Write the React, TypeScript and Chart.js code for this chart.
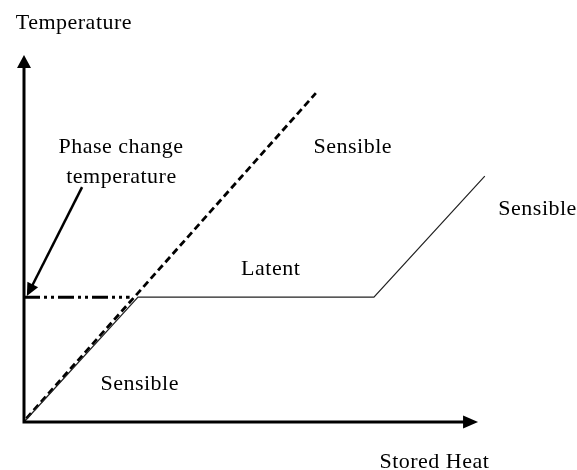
import React, { useEffect, useRef } from "react";
import { Chart, registerables } from "chart.js";

Chart.register(...registerables);

// Data (x: stored heat units, y: temperature units)
const solidX = [0, 23.75, 72.9, 96];
const solidY = [0, 34, 34, 67];
const dashedX = [0.5, 60.8];
const dashedY = [1, 89.6];
const phaseX = [0, 22];
const phaseY = [34, 34];
const arrowX = [12.1, 0.6];
const arrowY = [64, 34.3];
const axisTipX = 94.6;
const axisTipY = 100;

const labelTexts = ["Temperature", "Phase change", "temperature", "Sensible", "Sensible", "Latent", "Sensible", "Stored Heat"];
const labelX = [10.4, 20.2, 20.3, 68.5, 107, 51.4, 24.1, 85.5];
const labelY = [107.1, 73.3, 65.1, 73.3, 56.4, 40.1, 8.7, -12.5];

const toPoints = (xs: number[], ys: number[]) => xs.map((x, i) => ({ x, y: ys[i] }));

function arrowHead(ctx: CanvasRenderingContext2D, x1: number, y1: number, x2: number, y2: number, len: number, half: number) {
  const a = Math.atan2(y2 - y1, x2 - x1);
  ctx.beginPath();
  ctx.moveTo(x2, y2);
  ctx.lineTo(x2 - len * Math.cos(a) + half * Math.sin(a), y2 - len * Math.sin(a) - half * Math.cos(a));
  ctx.lineTo(x2 - len * Math.cos(a) - half * Math.sin(a), y2 - len * Math.sin(a) + half * Math.cos(a));
  ctx.closePath();
  ctx.fill();
}

const decorPlugin = {
  id: "decor",
  afterDraw(chart: any) {
    const ctx = chart.ctx as CanvasRenderingContext2D;
    const xs = chart.scales.x;
    const ys = chart.scales.y;
    const px = (v: number) => xs.getPixelForValue(v);
    const py = (v: number) => ys.getPixelForValue(v);
    ctx.save();
    ctx.strokeStyle = "#000";
    ctx.fillStyle = "#000";
    // axes
    ctx.lineWidth = 3;
    ctx.setLineDash([]);
    ctx.beginPath();
    ctx.moveTo(px(0), py(0) + 1.5);
    ctx.lineTo(px(0), py(axisTipY) + 10);
    ctx.moveTo(px(0) - 1.5, py(0));
    ctx.lineTo(px(axisTipX) - 12, py(0));
    ctx.stroke();
    arrowHead(ctx, px(0), py(0), px(0), py(axisTipY), 13, 7);
    arrowHead(ctx, px(0), py(0), px(axisTipX), py(0), 15, 6.5);
    // annotation arrow
    const ax1 = px(arrowX[0]), ay1 = py(arrowY[0]), ax2 = px(arrowX[1]), ay2 = py(arrowY[1]);
    const ang = Math.atan2(ay2 - ay1, ax2 - ax1);
    ctx.lineWidth = 2.5;
    ctx.beginPath();
    ctx.moveTo(ax1, ay1);
    ctx.lineTo(ax2 - 10 * Math.cos(ang), ay2 - 10 * Math.sin(ang));
    ctx.stroke();
    arrowHead(ctx, ax1, ay1, ax2, ay2, 13, 6);
    // labels
    ctx.font = "22px 'Liberation Serif', 'Times New Roman', serif";
    (ctx as any).letterSpacing = "0.5px";
    ctx.textAlign = "center";
    ctx.textBaseline = "alphabetic";
    ctx.fillStyle = "#000";
    labelTexts.forEach((t, i) => {
      ctx.fillText(t, px(labelX[i]), py(labelY[i]));
    });
    ctx.restore();
  },
};

export default function App() {
  const ref = useRef<HTMLCanvasElement>(null);
  useEffect(() => {
    document.body.style.margin = "0";
    const chart = new Chart(ref.current as HTMLCanvasElement, {
      type: "scatter",
      data: {
        datasets: [
          {
            data: toPoints(solidX, solidY),
            showLine: true,
            borderColor: "#222",
            borderWidth: 1.2,
            pointRadius: 0,
            clip: false,
          } as any,
          {
            data: toPoints(dashedX, dashedY),
            showLine: true,
            borderColor: "#000",
            borderWidth: 2.8,
            borderDash: [7, 4],
            pointRadius: 0,
            clip: false,
          },
          {
            data: toPoints(phaseX, phaseY),
            showLine: true,
            borderColor: "#000",
            borderWidth: 3,
            borderDash: [16, 4, 3, 4, 3, 4],
            pointRadius: 0,
            clip: false,
          },
        ],
      },
      options: {
        animation: false,
        responsive: true,
        maintainAspectRatio: false,
        layout: { padding: { left: 24, right: 73, top: 55, bottom: 48 } },
        scales: {
          x: { type: "linear", min: 0, max: 100, display: false },
          y: { type: "linear", min: 0, max: 100, display: false },
        },
        plugins: { legend: { display: false }, tooltip: { enabled: false } },
        events: [],
      },
      plugins: [decorPlugin],
    });
    return () => chart.destroy();
  }, []);
  return (
    <div style={{ width: 577, height: 470, position: "relative", background: "#fff" }}>
      <canvas ref={ref} />
    </div>
  );
}
